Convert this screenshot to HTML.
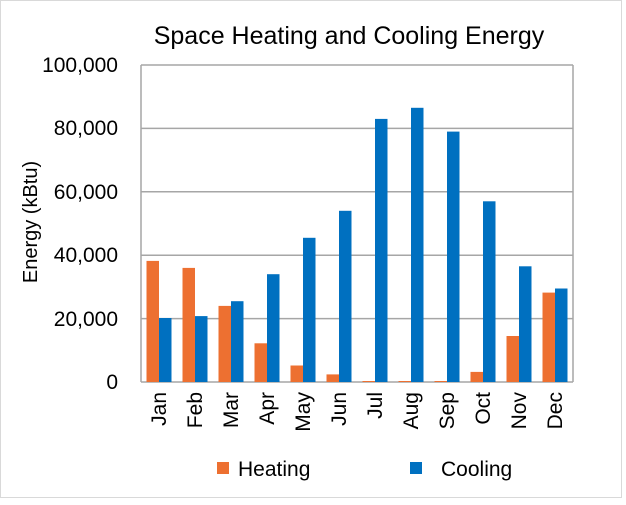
<!DOCTYPE html><html><head><style>body{margin:0;background:#fff}</style></head><body>
<svg width="626" height="500" xmlns="http://www.w3.org/2000/svg" font-family="Liberation Sans, sans-serif">
<rect x="0.5" y="0.5" width="621" height="497" fill="#fff" stroke="#d9d9d9"/>
<text x="349" y="44" font-size="25" text-anchor="middle" fill="#000">Space Heating and Cooling Energy</text>
<g stroke="#a6a6a6" stroke-width="1.5">
<line x1="141" y1="65" x2="573" y2="65"/><line x1="141" y1="128.4" x2="573" y2="128.4"/><line x1="141" y1="191.8" x2="573" y2="191.8"/><line x1="141" y1="255.2" x2="573" y2="255.2"/><line x1="141" y1="318.6" x2="573" y2="318.6"/><line x1="141" y1="382" x2="573" y2="382"/>
<line x1="141" y1="65" x2="141" y2="382"/><line x1="573" y1="65" x2="573" y2="382"/></g>
<g font-size="21" text-anchor="end" fill="#000">
<text x="118" y="72">100,000</text><text x="118" y="135">80,000</text><text x="118" y="199">60,000</text><text x="118" y="262">40,000</text><text x="118" y="326">20,000</text><text x="118" y="389">0</text></g>
<text transform="translate(37,222) rotate(-90)" font-size="20" text-anchor="middle">Energy (kBtu)</text>
<g fill="#ed7031">
<rect x="146.5" y="260.9" width="12.5" height="121.1"/>
<rect x="182.5" y="267.9" width="12.5" height="114.1"/>
<rect x="218.5" y="305.9" width="12.5" height="76.1"/>
<rect x="254.5" y="343.3" width="12.5" height="38.7"/>
<rect x="290.5" y="365.5" width="12.5" height="16.5"/>
<rect x="326.5" y="374.4" width="12.5" height="7.6"/>
<rect x="362.5" y="381" width="12.5" height="1"/>
<rect x="398.5" y="381" width="12.5" height="1"/>
<rect x="434.5" y="381" width="12.5" height="1"/>
<rect x="470.5" y="371.9" width="12.5" height="10.1"/>
<rect x="506.5" y="336" width="12.5" height="46"/>
<rect x="542.5" y="292.6" width="12.5" height="89.4"/>
</g>
<g fill="#0070c0">
<rect x="159" y="318" width="12.5" height="64"/>
<rect x="195" y="316.1" width="12.5" height="65.9"/>
<rect x="231" y="301.2" width="12.5" height="80.8"/>
<rect x="267" y="274.2" width="12.5" height="107.8"/>
<rect x="303" y="237.8" width="12.5" height="144.2"/>
<rect x="339" y="210.8" width="12.5" height="171.2"/>
<rect x="375" y="118.9" width="12.5" height="263.1"/>
<rect x="411" y="107.8" width="12.5" height="274.2"/>
<rect x="447" y="131.6" width="12.5" height="250.4"/>
<rect x="483" y="201.3" width="12.5" height="180.7"/>
<rect x="519" y="266.3" width="12.5" height="115.7"/>
<rect x="555" y="288.5" width="12.5" height="93.5"/>
</g>
<g font-size="21" text-anchor="end">
<text transform="translate(166,392) rotate(-90)">Jan</text>
<text transform="translate(202,392) rotate(-90)">Feb</text>
<text transform="translate(238,392) rotate(-90)">Mar</text>
<text transform="translate(274,392) rotate(-90)">Apr</text>
<text transform="translate(310,392) rotate(-90)">May</text>
<text transform="translate(346,392) rotate(-90)">Jun</text>
<text transform="translate(382,392) rotate(-90)">Jul</text>
<text transform="translate(418,392) rotate(-90)">Aug</text>
<text transform="translate(454,392) rotate(-90)">Sep</text>
<text transform="translate(490,392) rotate(-90)">Oct</text>
<text transform="translate(526,392) rotate(-90)">Nov</text>
<text transform="translate(562,392) rotate(-90)">Dec</text>
</g>
<rect x="217" y="462" width="12" height="12" fill="#ed7031"/><text x="238" y="476" font-size="21">Heating</text>
<rect x="410" y="462" width="12" height="12" fill="#0070c0"/><text x="441" y="476" font-size="21">Cooling</text>
</svg></body></html>
